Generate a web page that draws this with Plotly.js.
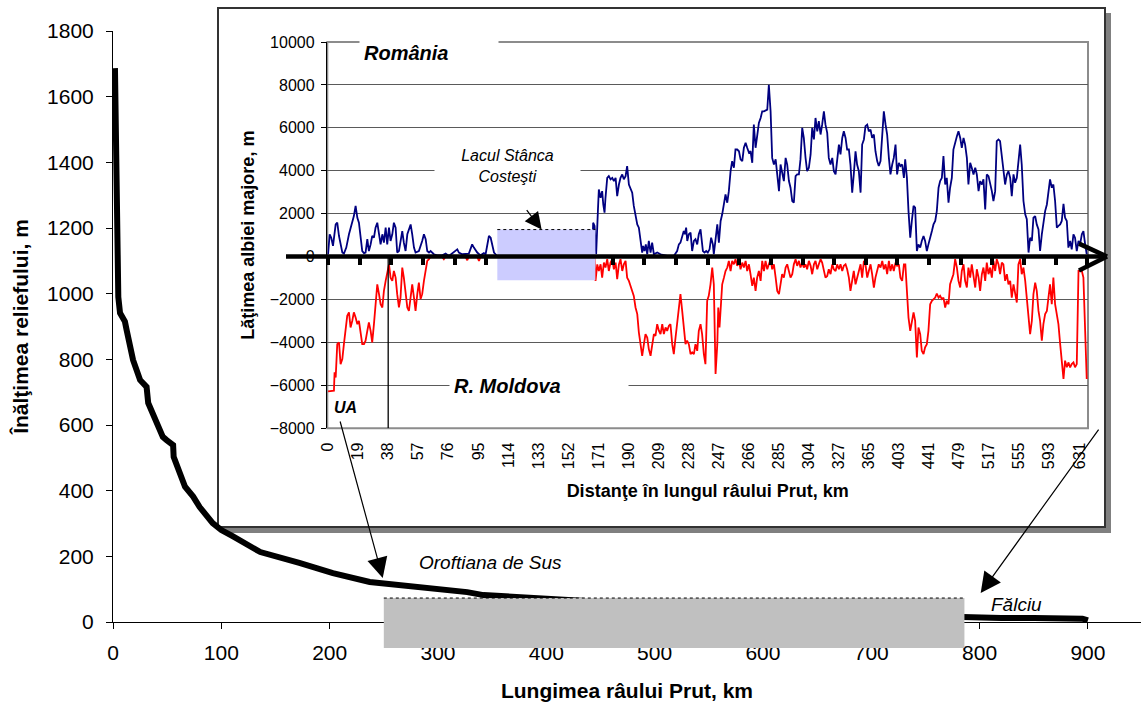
<!DOCTYPE html>
<html><head><meta charset="utf-8">
<script src="https://cdn.plot.ly/plotly-3.0.1.min.js"></script>
<style>html,body{margin:0;padding:0;background:#fff}</style>
</head><body>
<div id="chart" style="width:1141px;height:713px"></div>
<script>
// ================= DATA =================
// Main chart: longitudinal profile of the Prut river (km, m)
const profileKm   = [1.8, 3.4, 4.9, 6.5, 11, 12.6, 17, 18.5, 25, 31, 32.5, 40, 46, 49.5, 55.5, 56, 59, 66.5, 74, 80,
                     92, 100, 110, 136, 172, 203, 237, 265, 295, 327, 342, 373, 403, 450, 500, 550, 600, 650, 700, 750,
                     790, 820, 850, 880, 895, 900];
const profileElev = [1687, 1185, 990, 941, 915, 889, 819, 798, 737, 716, 667, 615, 564, 554, 539, 503, 473, 412, 382, 350,
                     301, 280, 262, 213, 180, 149, 122, 113, 104, 91, 82, 76, 70, 58, 48, 40, 33, 27, 22, 17,
                     13, 12, 12, 11, 10, 5];
const mainXTicks = [0, 100, 200, 300, 400, 500, 600, 700, 800, 900];

// Inset: floodplain width, category index along the river
const insetTickIdx  = [0, 19, 38, 57, 76, 95, 114, 133, 152, 171, 190, 209, 228, 247, 266, 285, 304, 323, 342, 361, 380, 399, 418, 437, 456, 475];
const insetTickText = ['0','19','38','57','76','95','114','133','152','171','190','209','228','247','266','285','304','327','365','403','441','479','517','555','593','631'];

const romaniaIdx = [
 0,1,2,3.1,4.8,5.8,6.9,7.9,9,10,
 11.5,13.2,14.9,16.3,17.4,18.5,19.5,20.6,21.6,22.7,
 23.7,24.8,25.8,26.9,27.9,29,30,31.1,32.2,33.2,
 34.3,35.3,36.4,37.4,38.5,39.5,40.6,41.6,42.7,43.7,
 44.8,45.8,46.9,47.9,49,50.1,51.1,52.2,53.2,54.3,
 55.3,57.4,59.5,60.6,61.7,62.7,63.8,64.8,66.9,69,
 72.2,74.3,76.4,80.6,81.7,82.7,84.8,89,91.1,92.2,
 93.3,94.3,96.4,98.5,99.6,101.7,102.8,103.8,104.9,105.9,
 107,167,167.6,168.5,169.5,170.6,171.2,172.3,173.3,174,
 174.8,175.4,176.5,177.5,178.6,179.7,180.7,181.8,182.8,183.9,
 184.9,186,187,188.1,189.1,190.2,191.2,192.3,193.3,194.4,
 195.5,196.5,197.6,198.6,199.2,200.1,200.9,201.8,202.8,203.9,
 204.9,206,208.1,210.2,214.4,218.6,220.7,221.8,222.8,223.9,
 224.9,225.6,226.4,227.1,228.1,229.2,230.2,231.3,232.3,233.4,
 234.4,235.5,236.1,237,238,239.1,240.1,241.2,242.2,243.3,
 243.9,245,246.1,247.1,248.2,249.2,250.3,251.3,252.4,253.4,
 254.5,255.5,256.6,257.6,258.7,259.8,260.8,261.9,262.9,264,
 265,266.1,267.1,268.2,269.2,270.3,271.3,272.4,273.5,274.5,
 275.6,276.6,277.7,278.7,279.8,280.8,281.9,283,284,285.1,
 286.1,287.1,288.2,289.3,290.3,291.4,292.4,293.5,294.5,295.6,
 296.6,297.7,298.7,299.8,300.8,301.9,302.9,304,305.1,306.1,
 307.2,308.2,309.3,310.3,311.4,312.4,313.5,314.5,315.6,316.6,
 317.7,318.8,319.8,320.9,321.9,323,324,325.1,326.1,327.2,
 328.2,329.3,330.3,331.4,332.4,333.5,334.5,335.6,336.7,337.7,
 338.8,339.8,340.9,341.9,343,344,345.1,346.1,347.2,348.2,
 349.3,350.4,351.4,352.5,353.5,354.6,355.6,356.7,357.7,358.8,
 359.8,360.9,361.9,363,364.1,364.9,366,367,368.1,369.1,
 370.2,371.2,372.3,373.3,374.4,375.4,376.5,377.5,378.6,379.6,
 380.7,381.8,382.8,383.9,384.9,386,387,388.1,389.1,390.2,
 391.2,392.3,393.3,394.4,395.4,396.5,397.6,398.6,399.7,400.7,
 401.8,402.8,403.9,404.9,406,407,408.1,409.2,410.2,411.3,
 412.3,413.4,414.4,415.5,416.5,417.6,418.6,419.7,420.7,421.8,
 422.8,423.9,424.9,426,427,428.1,429.2,430.2,431.3,432.3,
 433.4,434.4,435.5,436.5,437.6,438.6,439.7,440.8,441.8,442.9,
 443.9,445,446,447.1,448.1,449.2,450.2,451.3,452.3,453.4,
 454.5,455.5,456.5,457.6,458.6,459.7,460.8,461.8,462.9,463.9,
 465,466,467.1,468.1,469.2,470.2,471.3,472.3,473.4,474.5,
 475.5,476.6,477.6,478.7,479.7];
const romaniaWidth = [
 110,1040,880,500,1500,1580,960,570,190,140,
 420,1040,1500,1890,2360,1810,1580,880,260,160,
 190,810,260,570,960,880,1350,1580,1040,570,
 1040,650,1350,570,1350,730,1040,1580,1350,190,
 260,810,1190,650,260,1040,1270,1500,1040,420,
 190,260,730,1040,810,260,190,260,110,60,
 60,140,30,260,340,190,110,140,570,420,
 260,190,60,160,110,960,880,570,190,110,
 0,0,1580,1430,110,2120,3130,2740,3050,2430,
 2050,2740,3670,3750,3600,3670,3520,3670,2820,3360,
 3670,3830,3600,3750,4220,3360,3130,2980,2360,1970,
 1500,1350,570,190,500,260,570,110,730,190,
 650,110,190,110,30,30,260,570,650,880,
 1190,1040,1350,730,1040,1120,260,730,810,570,
 1040,1270,730,260,190,260,190,340,880,570,
 110,880,1500,650,1660,1970,2430,2900,2510,3050,
 3980,4450,4140,4990,4990,4910,4530,4450,5070,5300,
 5070,4840,4910,4370,6150,5070,5610,6230,6460,6770,
 6770,6800,6850,8010,6770,4600,4290,4530,3670,3050,
 4290,3980,3520,4600,4290,3520,3210,2590,2510,3750,
 3830,3830,4530,6000,5530,4600,3980,4140,4760,6000,
 5460,6460,5840,6310,5690,6150,6770,6150,5770,4600,
 4290,4600,3980,3830,4600,5220,4760,5530,5840,5530,
 4990,4990,4290,2980,3830,4910,4290,3980,2980,5220,
 5460,6080,6150,5840,5920,5530,5690,4910,4450,4220,
 4450,6000,6770,6150,5690,4600,3830,4290,4600,5220,
 3830,4370,4220,4290,3670,4530,3670,2120,880,1660,
 2360,2280,260,570,420,730,960,730,260,570,
 960,1190,1500,1660,2120,3210,3520,3670,4680,3360,
 3670,2510,3210,3670,4990,5380,5610,5840,5530,5070,
 5530,5220,4600,3360,4370,4140,3830,4140,3830,3050,
 3520,3360,3600,2200,3830,3750,3440,3050,2590,3050,
 5380,5460,5380,4760,4140,3360,3830,3980,3670,2820,
 3830,3440,3670,4450,5220,4290,2590,1970,1740,190,
 880,730,1810,1890,1500,1270,260,1040,1660,2120,
 2430,2980,3600,3210,3360,2590,1350,1430,1500,1660,
 2460,1810,1660,420,730,340,1040,880,260,730,
 570,1040,1190,570,110];

const moldovaIdx = [
 0,3.7,4.1,4.8,5.8,6.9,7.9,9,10,11.1,
 12.1,13.2,14.2,15.3,16.3,17.4,18.5,19.5,20.6,21.6,
 22.7,23.7,24.8,25.8,26.9,27.9,29,30,31.1,32.2,
 33.2,34.3,35.3,36.4,37.4,38.5,39.5,40.6,41.6,42.7,
 43.7,44.8,45.8,46.9,47.9,49,50.1,51.1,52.2,53.2,
 54.3,55.3,56.4,57.4,58.5,59.5,60.6,61.7,62.7,63.8,
 64.8,72,73.2,74.3,86.9,88,89,94.3,95.4,96.4,
 105.9,168,168.5,169.1,170.2,171.2,172.3,173.3,174.4,175.4,
 176.5,177.5,178.6,179.7,180.7,181.8,182.8,183.9,184.9,186,
 187,188.1,189.1,190.2,191.2,192.3,193.3,194.4,195.5,196.5,
 197.6,198.6,199.7,200.7,201.8,202.8,203.9,205,206,207,
 208.1,209.2,210.2,211.3,212.3,213.4,214.4,215.5,216.5,217.6,
 218.6,219.7,220.7,221.8,222.8,223.9,224.9,226,227,228.1,
 229.2,230.2,231.3,232.3,233.4,234.4,235.5,236.5,237.6,238.6,
 239.7,240.7,241.8,242.9,243.9,245,246.1,246.7,247.5,248.4,
 249.2,250.3,251.3,252.4,253.4,254.5,255.5,256.6,257.6,258.7,
 259.8,260.8,261.9,262.9,264,265,266.1,267.1,268.2,269.2,
 270.3,271.3,272.4,273.5,274.5,275.6,276.6,277.7,278.7,279.8,
 280.8,281.9,283,284,285.1,286.1,287.1,288.2,289.3,290.3,
 291.4,292.4,293.5,294.5,295.6,296.6,297.7,298.7,299.8,300.8,
 301.9,302.9,304,305.1,306.1,307.2,308.2,309.3,310.3,311.4,
 312.4,313.5,314.5,315.6,316.6,317.7,318.8,319.8,320.9,321.9,
 323,324,325.1,326.1,327.2,328.2,329.3,330.3,331.4,332.4,
 333.5,334.5,335.6,336.7,337.7,338.8,339.8,340.9,341.9,343,
 344,345.1,346.1,347.2,348.2,349.3,350.4,351.4,352.5,353.5,
 354.6,355.6,356.7,357.7,358.8,359.8,360.9,361.9,363,364.1,
 365,366,367,368.1,369.1,370.2,371.2,372.3,373.3,374.4,
 375.4,376.5,377.5,378.6,379.6,380.7,381.8,382.8,383.9,384.9,
 386,387,388.1,389.1,390.2,391.2,392.3,393.3,394.4,395.4,
 396.5,397.6,398.6,399.7,400.7,401.8,402.8,403.9,404.9,406,
 407,408.1,409.2,410.2,411.3,412.3,413.4,414.4,415.5,416.5,
 417.6,418.6,419.7,420.7,421.8,422.8,423.9,424.9,426,427,
 428.1,429.2,430.2,431.3,432.3,433.4,434.4,435.5,436.5,437.6,
 438.6,439.7,440.8,441.8,442.9,443.9,445,446,447.1,448.1,
 449.2,450.2,451.3,452.3,453.4,454.5,455.5,456.5,457.6,458.6,
 459.7,460.8,461.8,462.9,463.9,465,466,467.1,468.1,469.2,
 470.2,471.3,472.3,473.4,474.5,476.6,477.6,478.7,479.7];
const moldovaWidth = [
 -6280,-6250,-5390,-5630,-4080,-4000,-5010,-4770,-4080,-3460,
 -2760,-2600,-3300,-2990,-2600,-2840,-3150,-2990,-3460,-4080,
 -4080,-3920,-3460,-3070,-3460,-4000,-3150,-2220,-1290,-1750,
 -2220,-2370,-1600,-1130,-670,-360,-980,-1130,-670,-980,
 -1750,-2370,-1910,-510,-980,-1750,-2370,-2530,-1750,-1290,
 -1910,-2530,-1750,-1210,-1980,-1750,-1130,-670,-200,-120,
 0,0,-120,0,0,-170,0,0,-200,0,
 0,0,-120,-1130,-360,-670,-360,-980,-280,-510,
 -120,-670,-280,-120,-590,-280,-1050,-360,-120,-670,
 -360,-200,-980,-1130,-1360,-1600,-1830,-2370,-2680,-3530,
 -4080,-4620,-4080,-3610,-3770,-4310,-4620,-4080,-3610,-3690,
 -3150,-3460,-3610,-3150,-3610,-3300,-3460,-3220,-3150,-4080,
 -4540,-3770,-3150,-2530,-1750,-2530,-3460,-4080,-3920,-4080,
 -4540,-4460,-4540,-4080,-4390,-3460,-3150,-3610,-4540,-5010,
 -2060,-1830,-1290,-510,-1290,-5470,-4080,-2370,-3300,-2370,
 -1290,-980,-670,-510,-200,-670,-200,-360,-120,-430,
 -200,-590,-280,-510,-200,-670,-360,-820,-1360,-980,
 -1600,-980,-670,-1130,-200,-670,-200,-590,-360,-120,
 -590,-360,-980,-1600,-1750,-1290,-820,-980,-510,-360,
 -670,-980,-820,-360,-120,-430,-200,-510,-280,-510,
 -360,-590,-200,-430,-820,-360,-200,-590,-360,-120,
 -280,-670,-980,-900,-590,-820,-360,-590,-670,-360,
 -590,-360,-670,-430,-360,-590,-980,-1600,-980,-670,
 -1290,-980,-670,-360,-980,-200,-360,-980,-670,-360,
 -820,-1440,-980,-670,-360,-510,-200,-590,-360,-820,
 -200,-670,-360,-670,-280,-430,-360,-980,-1130,-360,
 -360,-1600,-2840,-3460,-2990,-2600,-2990,-4700,-3300,-3610,
 -4390,-4540,-4230,-4080,-3460,-2220,-2060,-1980,-1910,-1720,
 -1910,-1830,-1980,-1910,-2370,-2060,-2220,-1290,-980,-820,
 -120,-510,-1130,-1440,-670,-360,-1130,-1440,-510,-980,
 -360,-820,-1440,-590,-980,-1600,-820,-510,-1130,-280,
 -820,-510,-980,-200,-670,-120,-360,-820,-280,-360,
 -1130,-820,-1290,-1130,-1910,-1290,-1750,-2140,-360,-120,
 -820,-510,-1130,-1910,-2840,-3610,-2990,-1750,-1210,-1600,
 -2530,-2990,-3920,-3150,-2680,-2530,-1910,-1290,-2220,-980,
 -2220,-2680,-3150,-4080,-4850,-5700,-4850,-5160,-4930,-5160,
 -5010,-4930,-5160,-5010,-670,-670,-980,-4080,-5700];

// Reference features
const uaBoundaryIdx = 38;                       // Ukraine / Moldova border on the inset
const lakeIdx = [107, 169], lakeWidth = [-1100, 1260];   // Lacul Stânca-Costeşti
const insetKm = [250, 786], insetElev = [-79, 73];       // stretch shown in the inset
const arrowUA = {km: 249, elev: 134};
const arrowFalciu = {km: 801, elev: 88};
const lakeArrowIdx = 135;

// ================= GEOMETRY =================
const W = 1141, H = 713, M = {l: 113, r: 0, t: 31, b: 91};
const plotW = W - M.l - M.r, plotH = H - M.t - M.b;
const px = x => (x - M.l) / plotW;           // pixel -> paper
const py = y => (H - M.b - y) / plotH;
const X_RANGE = [0, 949], Y_RANGE = [0, 1800];
const xd = v => (v - X_RANGE[0]) / (X_RANGE[1] - X_RANGE[0]);
const yd = v => (v - Y_RANGE[0]) / (Y_RANGE[1] - Y_RANGE[0]);
const IX_DOM = [px(327.3), px(1088)], IY_DOM = [py(428.3), py(42)];
const IX_RANGE = [-0.5, 480.5], IY_RANGE = [-8000, 10000];
const iy = v => IY_DOM[0] + (v - IY_RANGE[0]) / (IY_RANGE[1] - IY_RANGE[0]) * (IY_DOM[1] - IY_DOM[0]);
const zeroPaper = iy(0);
const zeroPix = H - M.b - zeroPaper * plotH;

const FONT = 'Liberation Sans, Arial, Helvetica, sans-serif';

const traces = [
  {type: 'scatter', mode: 'lines', x: profileKm, y: profileElev, xaxis: 'x', yaxis: 'y',
   line: {color: '#000', width: 6}, name: 'Profil', hoverinfo: 'skip'},
  {type: 'scatter', mode: 'lines', x: romaniaIdx, y: romaniaWidth, xaxis: 'x2', yaxis: 'y2',
   line: {color: '#000080', width: 1.8}, name: 'România'},
  {type: 'scatter', mode: 'lines', x: moldovaIdx, y: moldovaWidth, xaxis: 'x2', yaxis: 'y2',
   line: {color: '#ff0000', width: 1.8}, name: 'R. Moldova'},
  {type: 'scatter', mode: 'markers', x: [0], y: [null], xaxis: 'x3', yaxis: 'y2', hoverinfo: 'skip', showlegend: false}
];

const shapes = [
  // inset frame shadow + frame
  {type: 'rect', xref: 'paper', yref: 'paper', layer: 'below', x0: px(223), x1: px(1111), y0: py(533), y1: py(13),
   fillcolor: '#808080', line: {width: 0}},
  {type: 'rect', xref: 'paper', yref: 'paper', layer: 'below', x0: px(218), x1: px(1105), y0: py(527), y1: py(8),
   fillcolor: '#ffffff', line: {color: '#333', width: 2}},
  // inset plot-area border
  {type: 'rect', xref: 'x2 domain', yref: 'y2 domain', layer: 'below', x0: 0, x1: 1, y0: 0, y1: 1,
   line: {color: '#8c8c8c', width: 2}},
  // lake
  {type: 'rect', xref: 'x2', yref: 'y2', layer: 'above', x0: lakeIdx[0], x1: lakeIdx[1], y0: lakeWidth[0], y1: lakeWidth[1],
   fillcolor: '#ccccff', line: {width: 0}},
  {type: 'line', xref: 'x2', yref: 'y2', layer: 'above', x0: lakeIdx[0], x1: lakeIdx[1], y0: lakeWidth[1], y1: lakeWidth[1],
   line: {color: '#000', width: 1, dash: 'dot'}},
  // UA border
  {type: 'line', xref: 'x2', yref: 'y2', layer: 'above', x0: uaBoundaryIdx, x1: uaBoundaryIdx, y0: 0, y1: IY_RANGE[0],
   line: {color: '#000', width: 1.3}},
  // thick axis arrow
  {type: 'line', xref: 'paper', yref: 'paper', layer: 'above', x0: px(286), x1: px(1104), y0: zeroPaper, y1: zeroPaper,
   line: {color: '#000', width: 4.5}},
  {type: 'line', xref: 'paper', yref: 'paper', layer: 'above', x0: px(1079), x1: px(1107), y0: py(zeroPix - 13), y1: zeroPaper,
   line: {color: '#000', width: 4.5}},
  {type: 'line', xref: 'paper', yref: 'paper', layer: 'above', x0: px(1079), x1: px(1107), y0: py(zeroPix + 14), y1: zeroPaper,
   line: {color: '#000', width: 4.5}},
  // grey band on main chart
  {type: 'rect', xref: 'paper', yref: 'paper', layer: 'above', x0: xd(insetKm[0]), x1: xd(insetKm[1]), y0: yd(insetElev[0]), y1: yd(insetElev[1]),
   fillcolor: '#c0c0c0', line: {width: 0}},
  {type: 'line', xref: 'paper', yref: 'paper', layer: 'above', x0: xd(insetKm[0]), x1: xd(insetKm[1]), y0: yd(insetElev[1]), y1: yd(insetElev[1]),
   line: {color: '#000', width: 1, dash: 'dot'}}
];

const bi = {family: FONT, size: 20, color: '#000', weight: 'bold', style: 'italic'};
const annotations = [
  {xref: 'paper', yref: 'paper', x: px(429), y: py(52.5), xanchor: 'center', yanchor: 'middle', showarrow: false,
   text: 'România', font: bi, bgcolor: '#fff', width: 130, height: 17, borderpad: 4, align: 'left'},
  {xref: 'paper', yref: 'paper', x: px(507.5), y: py(165.5), xanchor: 'center', yanchor: 'middle', showarrow: false,
   text: 'Lacul Stânca<br>Costeşti', font: {family: FONT, size: 16, color: '#000', style: 'italic'},
   bgcolor: '#fff', width: 141, height: 44, borderpad: 2, align: 'center'},
  {xref: 'paper', yref: 'paper', x: px(539), y: py(386), xanchor: 'center', yanchor: 'middle', showarrow: false,
   text: 'R. Moldova', font: bi, bgcolor: '#fff', width: 170, height: 18, borderpad: 4, align: 'left'},
  {xref: 'paper', yref: 'paper', x: px(345), y: py(407), xanchor: 'center', yanchor: 'middle', showarrow: false,
   text: 'UA', font: {family: FONT, size: 16, color: '#000', weight: 'bold', style: 'italic'}},
  {xref: 'paper', yref: 'paper', x: px(490), y: py(562), xanchor: 'center', yanchor: 'middle', showarrow: false,
   text: 'Oroftiana de Sus', font: {family: FONT, size: 19, color: '#000', style: 'italic'}},
  {xref: 'paper', yref: 'paper', x: px(1016), y: py(604), xanchor: 'center', yanchor: 'middle', showarrow: false,
   text: 'Fălciu', font: {family: FONT, size: 19, color: '#000', style: 'italic'}},
  // arrows
  {xref: 'x2', yref: 'y2', x: lakeArrowIdx, y: lakeWidth[1], ax: -16, ay: -21, text: '', showarrow: true,
   arrowhead: 2, arrowsize: 2.8, arrowwidth: 1.2, arrowcolor: '#000', standoff: 0, startstandoff: 0},
  {xref: 'x', yref: 'y', x: arrowUA.km, y: arrowUA.elev, ax: -43, ay: -158, text: '', showarrow: true,
   arrowhead: 2, arrowsize: 3.4, arrowwidth: 1.2, arrowcolor: '#000', standoff: 0, startstandoff: 0},
  {xref: 'x', yref: 'y', x: arrowFalciu.km, y: arrowFalciu.elev, ax: 119, ay: -165, text: '', showarrow: true,
   arrowhead: 2, arrowsize: 3.4, arrowwidth: 1.2, arrowcolor: '#000', standoff: 0, startstandoff: 0}
];

const layout = {
  width: W, height: H, margin: {l: M.l, r: M.r, t: M.t, b: M.b, pad: 0},
  paper_bgcolor: '#fff', plot_bgcolor: 'rgba(0,0,0,0)', showlegend: false,
  font: {family: FONT, color: '#000'},
  separators: '.,',
  xaxis: {domain: [0, 1], range: X_RANGE, tickmode: 'array', tickvals: mainXTicks, ticks: 'outside', ticklen: 6,
    tickcolor: '#000', showline: true, linecolor: '#000', linewidth: 1, showgrid: false, zeroline: false,
    tickfont: {family: FONT, size: 21, color: '#000'}, ticklabelstandoff: 6,
    title: {text: 'Lungimea râului Prut, km', font: {family: FONT, size: 21, color: '#000', weight: 'bold'}, standoff: 20}},
  yaxis: {domain: [0, 1], range: Y_RANGE, dtick: 200, ticks: 'outside', ticklen: 6, tickcolor: '#000',
    showline: true, linecolor: '#000', linewidth: 1, showgrid: false, zeroline: false,
    tickfont: {family: FONT, size: 21, color: '#000'}, ticklabelstandoff: 8,
    title: {text: 'Înălţimea reliefului, m', font: {family: FONT, size: 21, color: '#000', weight: 'bold'}, standoff: 12}},
  xaxis2: {domain: IX_DOM, anchor: 'y2', range: IX_RANGE, tickmode: 'array', tickvals: insetTickIdx, ticktext: insetTickText,
    tickangle: -90, ticks: '', showline: false, showgrid: false, zeroline: false,
    tickfont: {family: FONT, size: 16, color: '#000'}, ticklabelstandoff: 10,
    title: {text: 'Distanţe în lungul râului Prut, km', font: {family: FONT, size: 18, color: '#000', weight: 'bold'}, standoff: 16}},
  yaxis2: {domain: IY_DOM, anchor: 'x2', range: IY_RANGE, dtick: 2000, ticks: 'outside', ticklen: 5, tickcolor: '#000',
    showline: true, linecolor: '#000', linewidth: 1.5, showgrid: true, gridcolor: '#5a5a5a', gridwidth: 1, zeroline: false,
    exponentformat: 'none', separatethousands: false, tickformat: 'd',
    tickfont: {family: FONT, size: 16, color: '#000'}, ticklabelstandoff: 3,
    title: {text: 'Lăţimea albiei majore, m', font: {family: FONT, size: 18, color: '#000', weight: 'bold'}, standoff: 10}},
  xaxis3: {overlaying: 'x2', anchor: 'free', position: zeroPaper, range: IX_RANGE, tickmode: 'linear', tick0: 0, dtick: 20,
    ticks: 'outside', ticklen: 7, tickwidth: 4, tickcolor: '#000', showticklabels: false, showgrid: false,
    zeroline: false, showline: false, side: 'bottom'},
  shapes: shapes,
  annotations: annotations
};

Plotly.newPlot('chart', traces, layout, {displayModeBar: false, staticPlot: true});
</script>
</body></html>
